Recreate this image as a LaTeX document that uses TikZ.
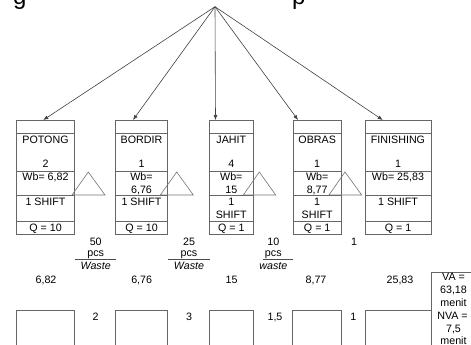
\documentclass[tikz,border=0pt]{standalone}
\usepackage{fontspec}
\setmainfont{Liberation Sans}
\usetikzlibrary{arrows.meta}
\newcommand\mystation[3]{%
  \node[stn, anchor=north west, minimum width={#3-#2}, minimum height=114pt] (#1) at (#2,120) {};
  \foreach \yy in {133.3,171,195,221}{\draw[boxline] (#2,\yy) -- (#3,\yy);}
}
\begin{document}
\begin{tikzpicture}[x=1pt,y=-1pt,
  txt/.style={font=\fontsize{10.7}{12}\selectfont, inner sep=0pt, anchor=base},
  itxt/.style={txt, font=\fontsize{10.7}{12}\selectfont\itshape},
  boxline/.style={draw=black!60, line width=0.7pt},
  stn/.style={draw=black!60, line width=0.7pt, inner sep=0pt, outer sep=0pt},
  flow/.style={draw=black!75, line width=0.6pt, -{Latex[length=5pt,width=4pt]}},
  inv/.style={draw=black!55, line width=0.6pt},
  frac/.style={draw=black!70, line width=0.6pt}]
\useasboundingbox (0,0) rectangle (471,345);
\clip (0,0) rectangle (471,345);

% clipped heading fragments
\node[font=\fontsize{24}{24}\selectfont, inner sep=0pt, anchor=base west] (hg) at (13,5) {g};
\node[font=\fontsize{24}{24}\selectfont, inner sep=0pt, anchor=base west] (hp) at (292,5) {p};

% stations
\mystation{potong}{16.7}{74.3}
\mystation{bordir}{115.3}{167.7}
\mystation{jahit}{209.3}{253.3}
\mystation{obras}{293.3}{341}
\mystation{finishing}{365}{431}

% arrows
\coordinate (apex) at (215,6.7);
\draw[flow] (apex) -- ([xshift=26.6pt]potong.north west);
\draw[flow] (apex) -- ([xshift=17.7pt]bordir.north west);
\draw[flow] (apex) -- ([xshift=6.2pt]jahit.north west);
\draw[flow] (apex) -- ([xshift=4.7pt]obras.north west);
\draw[flow] (apex) -- ([xshift=17.7pt]finishing.north west);

% station texts
\node[txt] (t1a) at (45.5,143.2) {POTONG};
\node[txt] (t1b) at (45.5,167.9) {2};
\node[txt] (t1c) at (45.5,180.9) {Wb= 6,82};
\node[txt] (t1d) at (45.5,205.9) {1 SHIFT};
\node[txt] (t1e) at (45.5,231.9) {Q = 10};

\node[txt] (t2a) at (141.5,143.2) {BORDIR};
\node[txt] (t2b) at (141.5,167.9) {1};
\node[txt] (t2c) at (141.5,180.9) {Wb=};
\node[txt] (t2c2) at (141.5,193.8) {6,76};
\node[txt] (t2d) at (141.5,205.9) {1 SHIFT};
\node[txt] (t2e) at (141.5,231.9) {Q = 10};

\node[txt] (t3a) at (231.3,143.2) {JAHIT};
\node[txt] (t3b) at (231.3,167.9) {4};
\node[txt] (t3c) at (231.3,180.9) {Wb=};
\node[txt] (t3c2) at (231.3,193.8) {15};
\node[txt] (t3d) at (231.3,205.9) {1};
\node[txt] (t3d2) at (231.3,218) {SHIFT};
\node[txt] (t3e) at (231.3,231.9) {Q = 1};

\node[txt] (t4a) at (317.2,143.2) {OBRAS};
\node[txt] (t4b) at (317.2,167.9) {1};
\node[txt] (t4c) at (317.2,180.9) {Wb=};
\node[txt] (t4c2) at (317.2,193.8) {8,77};
\node[txt] (t4d) at (317.2,205.9) {1};
\node[txt] (t4d2) at (317.2,218) {SHIFT};
\node[txt] (t4e) at (317.2,231.9) {Q = 1};

\node[txt] (t5a) at (398,143.2) {FINISHING};
\node[txt] (t5b) at (398,167.9) {1};
\node[txt] (t5c) at (398,180.9) {Wb= 25,83};
\node[txt] (t5d) at (398,205.9) {1 SHIFT};
\node[txt] (t5e) at (398,231.9) {Q = 1};

% inventory triangles
\draw[inv] (72,195) -- (88.3,172) -- (105,195) -- cycle;
\draw[inv] (160.3,195) -- (176.7,172) -- (193.3,195) -- cycle;
\draw[inv] (243.3,195) -- (259.3,172) -- (275.7,195) -- cycle;
\draw[inv] (329,195) -- (345,172) -- (361.7,195) -- cycle;

% waste labels
\node[txt] (w1a) at (95.7,245) {50};
\node[txt] (w1b) at (95.7,256.2) {pcs};
\draw[frac] (75,259.3) -- (116,259.3);
\node[itxt] (w1c) at (95.7,269.5) {Waste};

\node[txt] (w2a) at (189,245) {25};
\node[txt] (w2b) at (189,256.2) {pcs};
\draw[frac] (168,259.3) -- (210,259.3);
\node[itxt] (w2c) at (189,269.5) {Waste};

\node[txt] (w3a) at (273.3,245) {10};
\node[txt] (w3b) at (273.3,256.2) {pcs};
\draw[frac] (263,259.3) -- (292.7,259.3);
\node[itxt] (w3c) at (273.3,269.5) {waste};

\node[txt] (w4a) at (354,245) {1};

% value-added times
\node[txt] (v1) at (46,283) {6,82};
\node[txt] (v2) at (141.7,283) {6,76};
\node[txt] (v3) at (231.5,283) {15};
\node[txt] (v4) at (316,283) {8,77};
\node[txt] (v5) at (400,283) {25,83};

% timeline boxes
\draw[boxline] (16.7,350) -- (16.7,310) -- (74,310) -- (74,350);
\draw[boxline] (115.7,350) -- (115.7,310) -- (167.7,310) -- (167.7,350);
\draw[boxline] (209.3,350) -- (209.3,310) -- (253.3,310) -- (253.3,350);
\draw[boxline] (292.7,350) -- (292.7,310) -- (341,310) -- (341,350);
\draw[boxline] (365,350) -- (365,310) -- (431.7,310) -- (431.7,350);

% non-value-added times
\node[txt] (n1) at (95.7,320.7) {2};
\node[txt] (n2) at (189,320.7) {3};
\node[txt] (n3) at (275,320.7) {1,5};
\node[txt] (n4) at (353.3,320.7) {1};

% summary box
\draw[boxline] (431.7,350) -- (431.7,272.7) -- (480,272.7);
\node[txt] (s1) at (453.5,280) {VA =};
\node[txt] (s2) at (453.5,293) {63,18};
\node[txt] (s3) at (453.5,306) {menit};
\node[txt] (s4) at (452.5,319) {NVA =};
\node[txt] (s5) at (453.5,332) {7,5};
\node[txt] (s6) at (453.5,344) {menit};
\end{tikzpicture}
\end{document}
